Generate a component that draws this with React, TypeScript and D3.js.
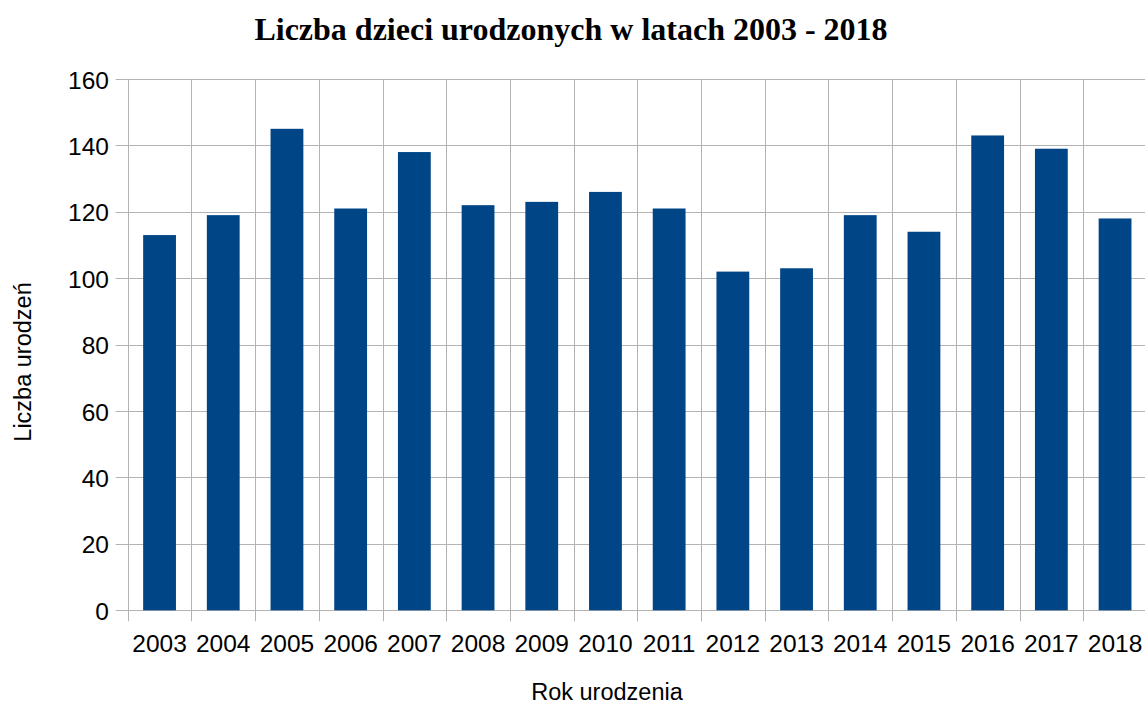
import React, { useEffect, useRef } from 'react';
import * as d3 from 'd3';

const years = ['2003', '2004', '2005', '2006', '2007', '2008', '2009', '2010', '2011', '2012', '2013', '2014', '2015', '2016', '2017', '2018'];
const births = [113, 119, 145, 121, 138, 122, 123, 126, 121, 102, 103, 119, 114, 143, 139, 118];
const yTicks = [0, 20, 40, 60, 80, 100, 120, 140, 160];

function BirthsChart() {
  const svgRef = useRef<SVGSVGElement>(null);

  useEffect(() => {
    const svg = d3.select(svgRef.current);
    svg.selectAll('*').remove();

    const width = 1145;
    const height = 704;
    const left = 127.7;
    const right = 1146.9;
    const top = 79;
    const bottom = 610.3;
    const gridColor = '#b3b3b3';
    const sans = '"Liberation Sans", Arial, sans-serif';

    const x = d3.scaleBand().domain(years).range([left, right]).paddingInner(0).paddingOuter(0);
    const y = d3.scaleLinear().domain([0, 160]).range([bottom, top]);

    svg.append('rect').attr('width', width).attr('height', height).attr('fill', '#fff');

    // horizontal grid + ticks
    svg.append('g')
      .selectAll('line')
      .data(yTicks)
      .enter()
      .append('line')
      .attr('x1', left - 12)
      .attr('x2', right)
      .attr('y1', d => Math.round(y(d)) + 0.5)
      .attr('y2', d => Math.round(y(d)) + 0.5)
      .attr('stroke', gridColor)
      .attr('stroke-width', 1);

    // vertical grid (category boundaries)
    const bounds = years.map(d => x(d) as number).concat([right]);
    svg.append('g')
      .selectAll('line')
      .data(bounds)
      .enter()
      .append('line')
      .attr('x1', d => Math.round(d) + 0.5)
      .attr('x2', d => Math.round(d) + 0.5)
      .attr('y1', top)
      .attr('y2', bottom + 11)
      .attr('stroke', gridColor)
      .attr('stroke-width', 1);

    const bw = x.bandwidth() * 0.515;
    svg.append('g')
      .selectAll('rect')
      .data(births)
      .enter()
      .append('rect')
      .attr('x', (d, i) => (x(years[i]) as number) + (x.bandwidth() - bw) / 2)
      .attr('width', bw)
      .attr('y', d => y(d))
      .attr('height', d => y(0) - y(d))
      .attr('fill', '#004586');

    svg.append('g')
      .selectAll('text')
      .data(yTicks)
      .enter()
      .append('text')
      .attr('x', 109)
      .attr('y', d => y(d) + 9.5)
      .attr('text-anchor', 'end')
      .style('font-family', sans)
      .style('font-size', '24.5px')
      .attr('fill', '#000')
      .text(d => d);

    svg.append('g')
      .selectAll('text')
      .data(years)
      .enter()
      .append('text')
      .attr('x', d => (x(d) as number) + x.bandwidth() / 2)
      .attr('y', 652)
      .attr('text-anchor', 'middle')
      .style('font-family', sans)
      .style('font-size', '24.5px')
      .attr('fill', '#000')
      .text(d => d);

    svg.append('text')
      .attr('x', 571)
      .attr('y', 40)
      .attr('text-anchor', 'middle')
      .style('font-family', '"Liberation Serif", "Times New Roman", serif')
      .style('font-weight', 'bold')
      .style('font-size', '32px')
      .text('Liczba dzieci urodzonych w latach 2003 - 2018');

    svg.append('text')
      .attr('x', 607)
      .attr('y', 700)
      .attr('text-anchor', 'middle')
      .style('font-family', sans)
      .style('font-size', '23.5px')
      .text('Rok urodzenia');

    svg.append('text')
      .attr('transform', 'translate(31,362) rotate(-90)')
      .attr('text-anchor', 'middle')
      .style('font-family', sans)
      .style('font-size', '23.5px')
      .text('Liczba urodzeń');
  }, []);

  return <svg ref={svgRef} width={1145} height={704} style={{ position: 'absolute', left: 0, top: 0 }}></svg>;
}

export default function App() {
  return <BirthsChart />;
}
